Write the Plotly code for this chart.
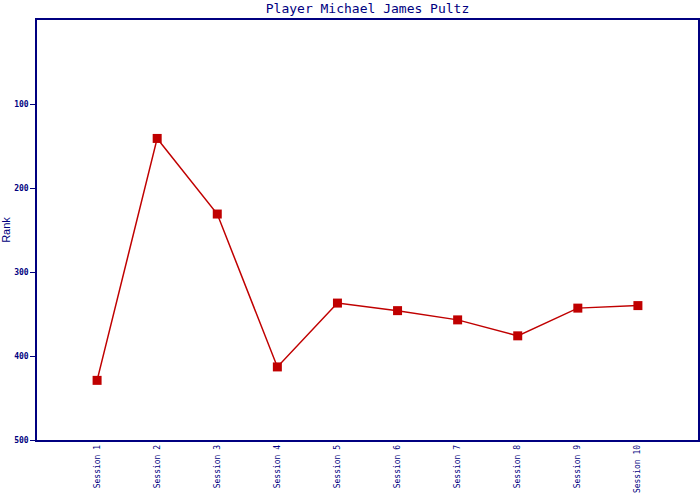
import plotly.graph_objects as go

sessions = ["Session 1", "Session 2", "Session 3", "Session 4", "Session 5",
            "Session 6", "Session 7", "Session 8", "Session 9", "Session 10"]
ranks = [429, 141, 231, 413, 337, 346, 357, 376, 343, 340]
y_ticks = [100, 200, 300, 400, 500]

navy = "#000080"

fig = go.Figure(go.Scatter(
    x=list(range(len(sessions))), y=ranks, mode="lines+markers",
    line=dict(color="#c00000", width=1.5),
    marker=dict(symbol="square", size=9, color="#c00000"),
))

fig.update_layout(
    width=700, height=500,
    margin=dict(l=37, r=2, t=20, b=60, autoexpand=False),
    paper_bgcolor="white", plot_bgcolor="white",
    showlegend=False,
    title=dict(text="Player Michael James Pultz", x=0.5, xref="paper", xanchor="center",
               yref="container", y=0.984, yanchor="middle", automargin=False,
               font=dict(family="DejaVu Sans Mono", size=13, color=navy)),
    xaxis=dict(range=[-1, 10], tickvals=list(range(len(sessions))), ticktext=sessions,
               tickangle=-90, showgrid=False, zeroline=False, automargin=False,
               showline=True, linecolor=navy, linewidth=1.5, mirror=True,
               ticks="", tickfont=dict(family="DejaVu Sans Mono", size=8, color=navy)),
    yaxis=dict(range=[500, 0], tickvals=y_ticks, showgrid=False, zeroline=False,
               automargin=False,
               showline=True, linecolor=navy, linewidth=1.5, mirror=True,
               ticks="outside", ticklen=5, tickcolor=navy,
               tickfont=dict(family="DejaVu Sans Mono", size=8, color=navy, weight="bold"),
               title=dict(text="Rank", standoff=2,
                          font=dict(family="Liberation Sans", size=11, color=navy))),
)

fig.write_html("out.html", config={"displayModeBar": False},
               post_script="document.body.style.margin='0';")
